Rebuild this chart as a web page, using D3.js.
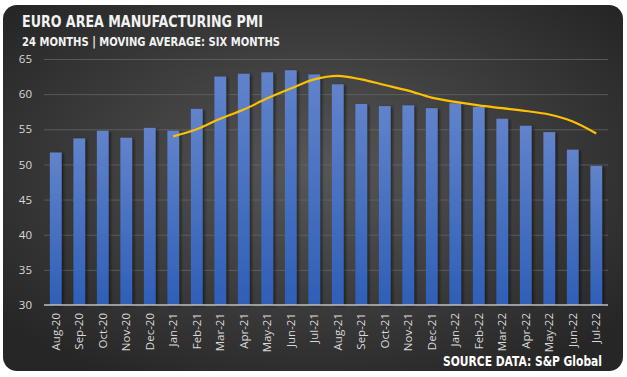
<!DOCTYPE html>
<html>
<head>
<meta charset="utf-8">
<script src="https://cdn.jsdelivr.net/npm/d3@7"></script>
<style>
  body { margin: 0; background: #fff; }
  svg { display: block; font-family: "Open Sans", "Liberation Sans", sans-serif; }
</style>
</head>
<body>
<svg width="627" height="377"></svg>
<script>
var months = ["Aug-20","Sep-20","Oct-20","Nov-20","Dec-20","Jan-21","Feb-21","Mar-21","Apr-21","May-21","Jun-21","Jul-21",
              "Aug-21","Sep-21","Oct-21","Nov-21","Dec-21","Jan-22","Feb-22","Mar-22","Apr-22","May-22","Jun-22","Jul-22"];
var pmi = [51.7,53.7,54.8,53.8,55.2,54.8,57.9,62.5,62.9,63.1,63.4,62.8,
           61.4,58.6,58.3,58.4,58.0,58.7,58.2,56.5,55.5,54.6,52.1,49.8];
// six month moving average (starts at Jan-21)
var avgMonths = months.slice(5);
var avg = [54.0,55.0,56.5,57.8,59.4,60.8,62.1,62.6,62.1,61.3,60.5,59.5,58.9,58.4,58.0,57.6,57.1,56.1,54.4];
var yTicks = [30,35,40,45,50,55,60,65];

var svg = d3.select("svg"),
    margin = {top: 59, right: 19, bottom: 72, left: 44},
    width = 627 - margin.left - margin.right,
    height = 377 - margin.top - margin.bottom;

var defs = svg.append("defs");
var bg = defs.append("radialGradient").attr("id", "bg")
    .attr("cx", "50%").attr("cy", "45%").attr("r", "65%");
bg.append("stop").attr("offset", "0%").attr("stop-color", "#575757");
bg.append("stop").attr("offset", "100%").attr("stop-color", "#262626");

var barGrad = defs.append("linearGradient").attr("id", "bar")
    .attr("x1", 0).attr("y1", 0).attr("x2", 0).attr("y2", 1);
barGrad.append("stop").attr("offset", "0%").attr("stop-color", "#6183cb");
barGrad.append("stop").attr("offset", "100%").attr("stop-color", "#2f5fb7");

var shadow = defs.append("filter").attr("id", "shadow")
    .attr("x", "-30%").attr("y", "-10%").attr("width", "160%").attr("height", "120%");
shadow.append("feDropShadow").attr("dx", 2).attr("dy", 1).attr("stdDeviation", 1.5)
    .attr("flood-color", "#000").attr("flood-opacity", 0.5);

svg.append("rect")
    .attr("x", 3).attr("y", 5).attr("width", 620).attr("height", 366)
    .attr("rx", 14).attr("fill", "url(#bg)");

var condensed = "'DejaVu Sans Condensed', 'DejaVu Sans', sans-serif";

svg.append("text")
    .attr("x", 22).attr("y", 27)
    .attr("fill", "#f2f2f2")
    .style("font-family", condensed)
    .style("font-weight", "bold").style("font-size", "16.5px")
    .attr("textLength", 241).attr("lengthAdjust", "spacingAndGlyphs")
    .text("EURO AREA MANUFACTURING PMI");

svg.append("text")
    .attr("x", 22).attr("y", 45.5)
    .attr("fill", "#f2f2f2")
    .style("font-family", condensed)
    .style("font-weight", "bold").style("font-size", "12px")
    .attr("textLength", 258).attr("lengthAdjust", "spacingAndGlyphs")
    .text("24 MONTHS | MOVING AVERAGE: SIX MONTHS");

var g = svg.append("g").attr("transform", "translate(" + margin.left + "," + margin.top + ")");

var x = d3.scaleBand().domain(months).range([0, width]).paddingInner(0.5).paddingOuter(0.25),
    y = d3.scaleLinear().domain([30, 65]).range([height, 0]);

// gridlines
g.append("g")
    .attr("class", "grid")
    .call(d3.axisLeft(y).tickValues(yTicks.slice(1)).tickSize(-width).tickFormat(""))
  .call(function(s) {
    s.select(".domain").remove();
    s.selectAll("line").attr("stroke", "#6a6a6a").attr("stroke-width", 1).attr("opacity", 0.7);
  });

// y axis labels
g.append("g")
    .attr("class", "axis axis--y")
    .call(d3.axisLeft(y).tickValues(yTicks).tickSize(0).tickPadding(12))
  .call(function(s) {
    s.select(".domain").remove();
    s.selectAll("text").attr("fill", "#d9d9d9").style("font-size", "11.5px")
      .style("font-family", "'Open Sans', sans-serif");
  });

// bars
g.selectAll(".bar")
  .data(pmi)
  .enter().append("rect")
    .attr("class", "bar")
    .attr("x", function(d, i) { return x(months[i]); })
    .attr("y", function(d) { return y(d); })
    .attr("width", x.bandwidth())
    .attr("height", function(d) { return height - y(d); })
    .attr("fill", "url(#bar)")
    .attr("filter", "url(#shadow)");

// x axis
g.append("g")
    .attr("class", "axis axis--x")
    .attr("transform", "translate(0," + height + ")")
    .call(d3.axisBottom(x).tickSize(0).tickSizeOuter(0))
  .call(function(s) {
    s.select(".domain").attr("stroke", "#bfbfbf").attr("stroke-width", 1.3)
      .attr("d", "M0,0H" + width);
    s.selectAll("text")
      .attr("fill", "#d9d9d9").style("font-size", "11.5px")
      .style("font-family", "'Open Sans', sans-serif")
      .attr("transform", "rotate(-90)")
      .attr("text-anchor", "end")
      .attr("dy", "0.35em")
      .attr("x", -8).attr("y", 0);
  });

// moving average
var line = d3.line()
    .x(function(d, i) { return x(avgMonths[i]) + x.bandwidth() / 2; })
    .y(function(d) { return y(d); })
    .curve(d3.curveCatmullRom.alpha(0.5));

g.append("path")
    .datum(avg)
    .attr("d", line)
    .attr("fill", "none")
    .attr("stroke", "#ffc000")
    .attr("stroke-width", 2.2);

svg.append("text")
    .attr("x", 602).attr("y", 365.5)
    .attr("text-anchor", "end")
    .attr("fill", "#ffffff")
    .style("font-family", condensed)
    .style("font-weight", "bold").style("font-size", "14px")
    .attr("textLength", 159).attr("lengthAdjust", "spacingAndGlyphs")
    .text("SOURCE DATA: S&P Global");
</script>
</body>
</html>
